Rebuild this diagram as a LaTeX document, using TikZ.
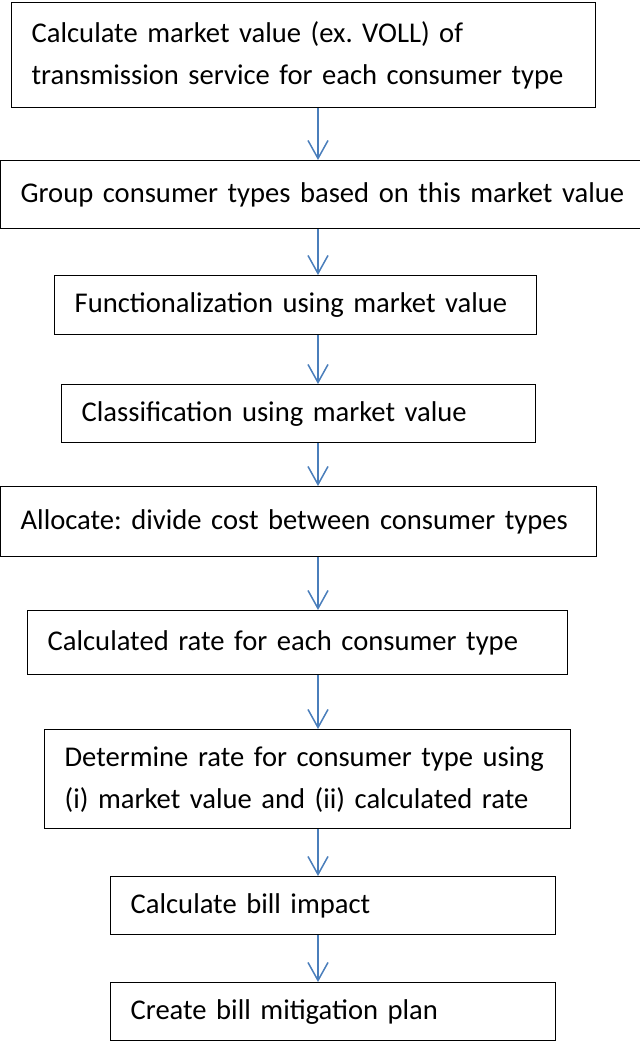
\documentclass[tikz,border=0pt]{standalone}
\usepackage{fontspec}
\setmainfont{Carlito}[WordSpace=0.88]
\usepackage{tikz}
\usetikzlibrary{arrows.meta}

\definecolor{flowblue}{HTML}{4A7EBB}

\begin{document}
\frenchspacing
\begin{tikzpicture}[
    x=1pt, y=1pt,
    stage/.style={
        rectangle,
        draw=black, line width=1.3pt,
        align=left,
        inner xsep=20pt, inner ysep=0pt,
        anchor=north west,
        font=\fontsize{28.6}{42}\selectfont
    },
    flow/.style={
        draw=flowblue, line width=1.5pt,
        -{Straight Barb[length=18pt,width=20pt,line width=1.5pt]}
    }
]
\useasboundingbox (0,0) rectangle (640,-1042);

\coordinate (spine) at (318,0);

\node[stage, text width=544pt, minimum height=105pt] (value) at (11,-2)
    {Calculate market value (ex. VOLL) of\\transmission service for each consumer type};
\node[stage, text width=620pt, minimum height=68pt] (group) at (0,-160)
    {\mbox{Group consumer types based on this market value}};
\node[stage, text width=442pt, minimum height=59pt] (func) at (54,-275)
    {Functionalization using market value};
\node[stage, text width=434pt, minimum height=58pt] (class) at (61,-384)
    {Classification using market value};
\node[stage, text width=556pt, minimum height=70pt] (alloc) at (0,-486)
    {\mbox{Allocate: divide cost between consumer types}};
\node[stage, text width=500pt, minimum height=64pt] (rate) at (27,-610)
    {Calculated rate for each consumer type};
\node[stage, text width=486pt, minimum height=99pt] (determine) at (44,-729)
    {Determine rate for consumer type using\\(i) market value and (ii) calculated rate};
\node[stage, text width=405pt, minimum height=58pt] (impact) at (110,-876)
    {Calculate bill impact};
\node[stage, text width=405pt, minimum height=58pt] (mitigate) at (110,-982)
    {Create bill mitigation plan};

\draw[flow] (value.south -| spine) -- (group.north -| spine);
\draw[flow] (group.south -| spine) -- (func.north -| spine);
\draw[flow] (func.south -| spine) -- (class.north -| spine);
\draw[flow] (class.south -| spine) -- (alloc.north -| spine);
\draw[flow] (alloc.south -| spine) -- (rate.north -| spine);
\draw[flow] (rate.south -| spine) -- (determine.north -| spine);
\draw[flow] (determine.south -| spine) -- (impact.north -| spine);
\draw[flow] (impact.south -| spine) -- (mitigate.north -| spine);

\end{tikzpicture}
\end{document}
